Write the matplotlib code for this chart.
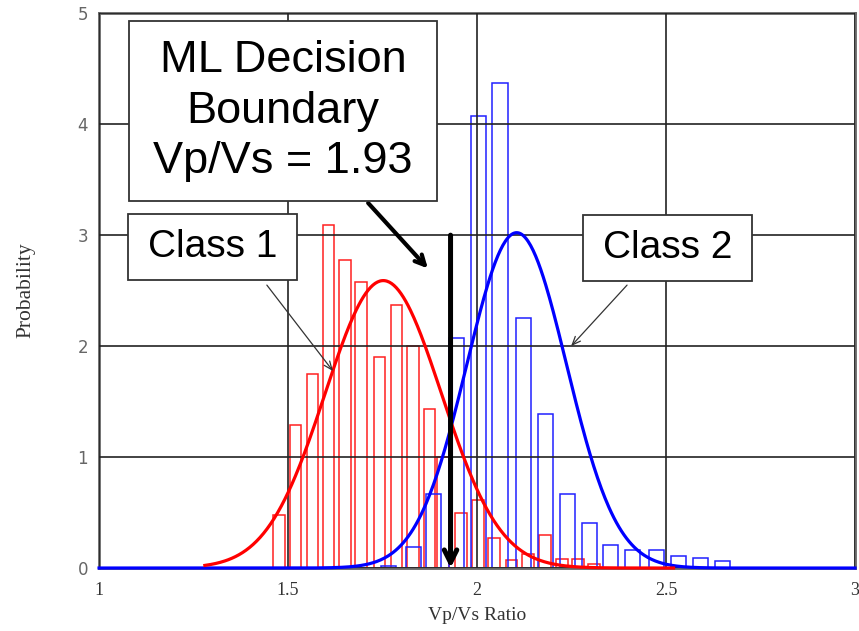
import matplotlib
matplotlib.use('Agg')
import matplotlib.pyplot as plt
import numpy as np
from matplotlib.patches import Rectangle

# histogram of Vp/Vs for the two classes (bin centres and normalised heights)
red_centers = [1.476, 1.520, 1.565, 1.607, 1.651, 1.693, 1.742, 1.787, 1.831, 1.874,
               1.910, 1.958, 2.003, 2.045, 2.091, 2.135, 2.180, 2.225, 2.267, 2.310]
red_heights = [0.48, 1.29, 1.75, 3.09, 2.78, 2.58, 1.90, 2.37, 2.00, 1.43,
               1.00, 0.50, 0.61, 0.27, 0.07, 0.13, 0.30, 0.08, 0.08, 0.04]
blue_centers = [1.766, 1.831, 1.886, 1.946, 2.003, 2.061, 2.123, 2.181,
                2.239, 2.298, 2.354, 2.411, 2.474, 2.534, 2.591, 2.649]
blue_heights = [0.02, 0.19, 0.67, 2.07, 4.07, 4.37, 2.25, 1.39,
                0.67, 0.41, 0.21, 0.16, 0.16, 0.11, 0.09, 0.06]

# gaussian fits (mean, std) and the range each fit is drawn over
class1_fit = (1.752, 0.154)
class2_fit = (2.105, 0.132)
class1_range = (1.28, 2.52)
class2_range = (1.0, 3.0)
boundary = 1.93

x_ticks = [1, 1.5, 2, 2.5, 3]
x_ticklabels = ['1', '1.5', '2', '2.5', '3']
y_ticks = [0, 1, 2, 3, 4, 5]


def gauss(x, mu, sd):
    return np.exp(-0.5 * ((x - mu) / sd) ** 2) / (sd * np.sqrt(2 * np.pi))


fig = plt.figure(figsize=(8.59, 6.31), dpi=100)
ax = fig.add_axes([0.1153, 0.0998, 0.8800, 0.8792])

ax.bar(red_centers, red_heights, width=0.031, facecolor='none',
       edgecolor='#ff2020', linewidth=1.1, zorder=2)
ax.bar(blue_centers, blue_heights, width=0.040, facecolor='none',
       edgecolor='#2020ff', linewidth=1.1, zorder=2)

ax.set_xlim(1, 3)
ax.set_ylim(0, 5)
ax.set_xticks(x_ticks)
ax.set_xticklabels(x_ticklabels)
ax.set_yticks(y_ticks)
ax.grid(True, color='#222222', linewidth=1.2, zorder=3)
ax.set_axisbelow(False)
for s in ax.spines.values():
    s.set_color('#666666')
    s.set_linewidth(2.0)
ax.tick_params(length=0)
ax.tick_params(axis='x', pad=10, labelsize=13, labelcolor='#333333')
ax.tick_params(axis='y', pad=8, labelsize=12, labelcolor='#666666')
for lab in ax.get_xticklabels():
    lab.set_family('Liberation Serif')
for lab in ax.get_yticklabels():
    lab.set_family('DejaVu Sans')

xs = np.linspace(class2_range[0], class2_range[1], 600)
ax.plot(xs, gauss(xs, *class2_fit), color='#0000ff', linewidth=2.3,
        clip_on=False, zorder=5)
xs = np.linspace(class1_range[0], class1_range[1], 400)
ax.plot(xs, gauss(xs, *class1_fit), color='#ff0000', linewidth=2.3,
        clip_on=False, zorder=6)

ax.set_xlabel('Vp/Vs Ratio', family='Liberation Serif', fontsize=14,
              color='#333333', labelpad=6)
ax.set_ylabel('Probability', family='Liberation Serif', fontsize=15.5,
              color='#333333', labelpad=30)

# decision boundary arrow
ax.annotate('', xy=(boundary, 0.0), xytext=(boundary, 3.0),
            arrowprops=dict(arrowstyle='->,head_length=0.9,head_width=0.45',
                            color='black', linewidth=3.6, shrinkA=0, shrinkB=0),
            zorder=8)

# label boxes
boxes = [
    ('ML Decision\nBoundary\nVp/Vs = 1.93', (1.079, 3.306, 0.815, 1.622), 32.5),
    ('Class 1', (1.077, 2.600, 0.447, 0.590), 28),
    ('Class 2', (2.280, 2.590, 0.448, 0.590), 28),
]
for text, (x0, y0, w, h), fs in boxes:
    ax.add_patch(Rectangle((x0, y0), w, h, facecolor='white',
                           edgecolor='#333333', linewidth=1.3, zorder=9))
    ax.text(x0 + w / 2, y0 + h / 2, text, ha='center', va='center',
            family='Liberation Sans', fontsize=fs, linespacing=1.3,
            color='black', zorder=10)

ax.annotate('', xy=(1.870, 2.70), xytext=(1.712, 3.29),
            arrowprops=dict(arrowstyle='->,head_length=0.7,head_width=0.35',
                            color='black', linewidth=3.0, shrinkA=0, shrinkB=0),
            zorder=8)
ax.annotate('', xy=(1.619, 1.775), xytext=(1.444, 2.55),
            arrowprops=dict(arrowstyle='->,head_length=0.6,head_width=0.25',
                            color='#333333', linewidth=0.9, shrinkA=0, shrinkB=0),
            zorder=8)
ax.annotate('', xy=(2.249, 2.0), xytext=(2.397, 2.55),
            arrowprops=dict(arrowstyle='->,head_length=0.6,head_width=0.25',
                            color='#333333', linewidth=0.9, shrinkA=0, shrinkB=0),
            zorder=8)

fig.savefig('out.png', dpi=100)
